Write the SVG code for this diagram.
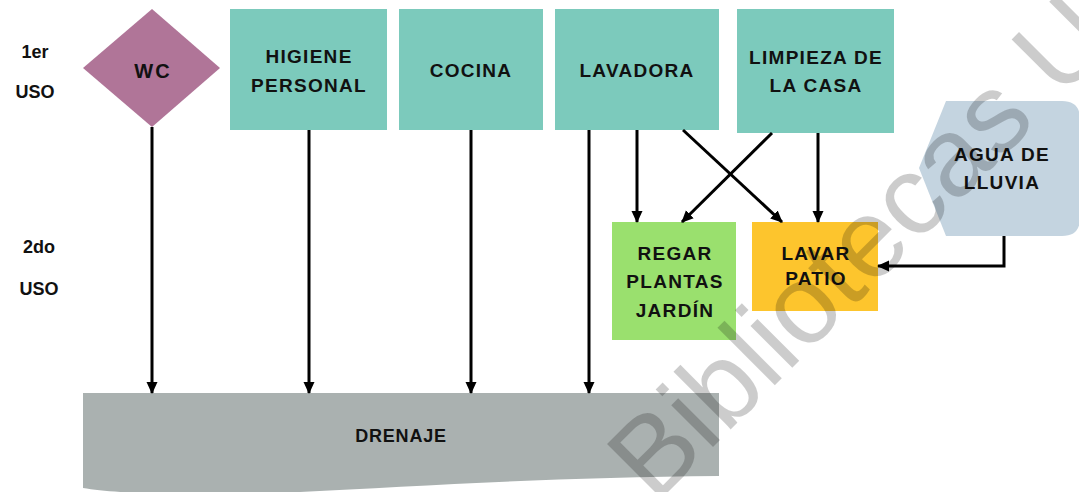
<svg xmlns="http://www.w3.org/2000/svg" width="1079" height="492" viewBox="0 0 1079 492">
  <defs>
    <style>
      .lbl { font-family: "Liberation Sans", Arial, sans-serif; font-weight: bold; font-size: 19px; letter-spacing: 1.3px; fill: #111; text-anchor: middle; }
      .side { font-family: "Liberation Sans", Arial, sans-serif; font-weight: bold; font-size: 18px; fill: #111; text-anchor: middle; }
      .use1 { fill: #7ccabc; }
      .wire { fill: none; stroke: #000; stroke-width: 3; marker-end: url(#head); }
      .mark { font-family: "Liberation Sans", Arial, sans-serif; font-size: 112px; fill: #000; fill-opacity: 0.2; }
    </style>
    <marker id="head" markerUnits="userSpaceOnUse" markerWidth="12" markerHeight="12" viewBox="0 0 12 12" refX="11" refY="6" orient="auto">
      <path d="M0,0.5 L12,6 L0,11.5 Z" fill="#000"/>
    </marker>
  </defs>

  <rect width="1079" height="492" fill="#fff"/>

  <!-- row labels -->
  <g id="row-labels">
    <text class="side" x="35" y="58">1er</text>
    <text class="side" x="35" y="98">USO</text>
    <text class="side" x="39" y="253">2do</text>
    <text class="side" x="39" y="295">USO</text>
  </g>

  <!-- first use -->
  <g id="wc">
    <polygon points="152,9 220,68 152,127 83,68" fill="#b07598"/>
    <text class="lbl" x="153" y="78" style="font-size:20px;letter-spacing:2px">WC</text>
  </g>
  <g id="higiene">
    <rect class="use1" x="230" y="9" width="157" height="121"/>
    <text class="lbl" x="309" y="63">HIGIENE</text>
    <text class="lbl" x="309" y="92">PERSONAL</text>
  </g>
  <g id="cocina">
    <rect class="use1" x="399" y="9" width="144" height="121"/>
    <text class="lbl" x="471" y="77">COCINA</text>
  </g>
  <g id="lavadora">
    <rect class="use1" x="555" y="9" width="164" height="121"/>
    <text class="lbl" x="637" y="77">LAVADORA</text>
  </g>
  <g id="limpieza">
    <rect class="use1" x="737" y="9" width="157" height="124"/>
    <text class="lbl" x="816" y="64">LIMPIEZA DE</text>
    <text class="lbl" x="816" y="92">LA CASA</text>
  </g>
  <g id="lluvia">
    <path d="M946,101 H1062 Q1080,101 1080,119 V218 Q1080,236 1062,236 H946 L919,168 Z" fill="#c4d4e0"/>
    <text class="lbl" x="1002" y="161">AGUA DE</text>
    <text class="lbl" x="1002" y="189">LLUVIA</text>
  </g>

  <!-- second use -->
  <g id="regar">
    <rect x="612" y="222" width="124" height="118" fill="#9ae06e"/>
    <text class="lbl" x="675" y="260">REGAR</text>
    <text class="lbl" x="675" y="288">PLANTAS</text>
    <text class="lbl" x="675" y="317">JARDÍN</text>
  </g>
  <g id="patio">
    <rect x="752" y="222" width="126" height="89" fill="#fdc52d"/>
    <text class="lbl" x="816" y="260">LAVAR</text>
    <text class="lbl" x="816" y="285">PATIO</text>
  </g>

  <!-- drain -->
  <g id="drenaje">
    <path d="M83,393 H719 V476 C560,477 420,486 300,492 C200,497 120,494 83,488 Z" fill="#aab1b0"/>
    <text class="lbl" x="401" y="442" style="font-size:18px;letter-spacing:0.8px">DRENAJE</text>
  </g>

  <!-- connectors -->
  <g id="connectors">
    <line class="wire" x1="152" y1="127" x2="152" y2="393"/>
    <line class="wire" x1="309" y1="130" x2="309" y2="393"/>
    <line class="wire" x1="471" y1="130" x2="471" y2="393"/>
    <line class="wire" x1="589" y1="130" x2="589" y2="393"/>
    <line class="wire" x1="637" y1="130" x2="637" y2="222"/>
    <line class="wire" x1="683" y1="130" x2="782" y2="222"/>
    <line class="wire" x1="772" y1="133" x2="682" y2="222"/>
    <line class="wire" x1="818" y1="133" x2="818" y2="222"/>
    <polyline class="wire" points="1004,236 1004,266 878,266"/>
  </g>

  <!-- watermark -->
  <text class="mark" transform="translate(655,505) rotate(-45)">Bibliotecas U</text>
</svg>
